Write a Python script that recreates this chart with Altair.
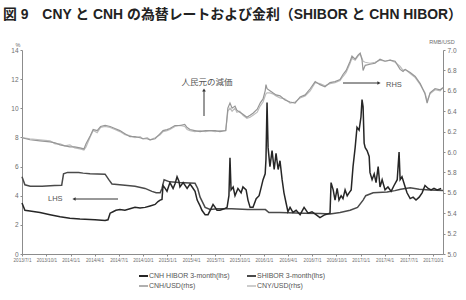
import altair as alt
import pandas as pd

title_text = "図 9　CNY と CNH の為替レートおよび金利（SHIBOR と CHN HIBOR）"

hibor_dates = ["2013-07-01","2013-07-12","2013-07-31","2013-09-07","2013-10-15","2013-11-22","2013-12-29",
"2014-02-05","2014-04-03","2014-05-11","2014-05-22","2014-05-30","2014-06-10","2014-06-21","2014-07-06",
"2014-07-25","2014-08-13","2014-09-01","2014-09-20","2014-10-09","2014-10-28","2014-11-16","2014-11-27",
"2014-12-05","2014-12-12","2014-12-16","2014-12-24","2014-12-31","2015-01-11","2015-01-23","2015-01-30",
"2015-02-07","2015-02-14","2015-02-18","2015-03-02","2015-03-17","2015-03-28","2015-04-05","2015-04-16",
"2015-04-24","2015-05-05","2015-05-12","2015-05-24","2015-06-04","2015-06-15","2015-06-23","2015-07-01",
"2015-07-08","2015-07-19","2015-08-04","2015-08-15","2015-08-22","2015-08-26","2015-08-30","2015-09-07",
"2015-09-14","2015-09-25","2015-10-07","2015-10-14","2015-10-26","2015-11-02","2015-11-10","2015-11-21",
"2015-12-03","2015-12-14","2015-12-21","2015-12-29","2016-01-06","2016-01-09","2016-01-13","2016-01-17",
"2016-01-24","2016-02-01","2016-02-09","2016-02-16","2016-02-24","2016-03-02","2016-03-10","2016-03-17",
"2016-03-25","2016-04-01","2016-04-09","2016-04-20","2016-05-02","2016-05-17","2016-06-01","2016-06-16",
"2016-07-01","2016-07-16","2016-07-31","2016-08-19","2016-09-07","2016-09-11","2016-09-19","2016-09-26",
"2016-10-04","2016-10-11","2016-10-19","2016-10-26","2016-11-03","2016-11-11","2016-11-18","2016-11-26",
"2016-12-03","2016-12-11","2016-12-18","2016-12-26","2017-01-02","2017-01-06","2017-01-10","2017-01-14",
"2017-01-18","2017-01-25","2017-02-02","2017-02-05","2017-02-13","2017-02-21","2017-02-28","2017-03-08",
"2017-03-15","2017-03-23","2017-04-03","2017-04-14","2017-04-26","2017-05-07","2017-05-19","2017-05-26",
"2017-05-30","2017-06-06","2017-06-18","2017-06-25","2017-07-07","2017-07-18","2017-07-29","2017-08-10",
"2017-08-21","2017-09-01","2017-09-13","2017-09-24","2017-10-05","2017-10-17","2017-11-01"]
hibor_vals = [3.5,3.0,2.95,2.85,2.7,2.55,2.45,
2.4,2.35,2.3,2.35,2.8,2.9,3.0,3.05,
3.0,3.1,3.2,3.15,3.2,3.3,3.4,3.6,
3.7,3.75,4.7,4.5,4.3,4.9,4.5,4.8,
5.3,5.0,4.6,4.9,4.5,4.8,4.6,4.3,
3.7,3.3,3.0,2.7,2.7,3.1,3.4,3.2,
3.0,3.0,3.1,3.2,4.0,6.6,4.4,4.6,
4.0,4.5,4.2,4.6,4.4,3.7,3.2,3.2,
3.8,4.0,4.5,5.1,5.5,6.5,10.4,7.3,
6.0,7.1,5.8,6.9,5.8,6.4,5.1,4.2,
3.5,2.9,3.2,2.85,3.0,2.7,3.2,2.8,
2.9,2.7,2.5,2.7,2.8,4.9,4.4,3.7,
4.5,3.7,4.0,3.8,4.4,4.0,4.2,4.4,
6.0,7.3,8.7,8.5,9.4,10.6,10.1,7.6,
7.3,7.1,6.7,5.6,5.1,5.5,4.9,6.0,
4.6,5.1,4.4,4.6,4.3,4.7,5.1,7.0,
5.1,5.3,4.6,4.2,3.8,3.9,3.7,3.9,
4.2,4.7,4.5,4.4,4.5,4.4,4.5]

shibor_dates = ["2013-07-01","2013-07-12","2013-08-01","2013-09-15","2013-11-01","2013-11-28","2013-12-05",
"2013-12-20","2014-01-31","2014-02-17","2014-03-15","2014-05-11","2014-05-25","2014-06-06","2014-07-25",
"2014-09-01","2014-10-09","2014-11-04","2014-11-20","2014-12-05","2014-12-12","2014-12-20","2015-01-10",
"2015-02-15","2015-04-16","2015-04-26","2015-05-05","2015-05-24","2015-06-12","2015-07-10","2015-09-01",
"2015-11-01","2016-01-07","2016-01-20","2016-03-01","2016-06-01","2016-08-01","2016-09-07","2016-10-15",
"2016-11-22","2016-12-20","2017-01-10","2017-01-20","2017-02-17","2017-04-11","2017-05-10","2017-06-01",
"2017-07-07","2017-08-10","2017-09-20","2017-11-08"]
shibor_vals = [5.3,4.75,4.65,4.65,4.7,4.72,5.5,
5.6,5.6,5.55,5.5,5.48,5.1,4.8,4.72,
4.65,4.5,4.3,4.2,4.2,4.5,5.1,4.95,
4.9,4.85,4.5,3.9,3.2,3.05,3.1,3.1,
3.05,3.05,2.85,2.85,2.8,2.78,2.75,2.85,
3.0,3.2,3.7,4.0,4.2,4.25,4.35,4.45,
4.55,4.45,4.4,4.35]

fx_dates = ["2013-07-01","2013-07-31","2013-09-07","2013-10-15","2013-11-03","2013-11-22","2013-12-10",
"2013-12-29","2014-01-16","2014-02-05","2014-02-20","2014-02-28","2014-03-16","2014-03-27","2014-04-11",
"2014-04-24","2014-05-11","2014-05-30","2014-06-17","2014-07-06","2014-07-25","2014-08-13","2014-09-01",
"2014-09-20","2014-10-01","2014-10-17","2014-10-28","2014-11-16","2014-12-05","2014-12-16","2014-12-31",
"2015-01-11","2015-01-30","2015-02-18","2015-03-08","2015-03-17","2015-03-28","2015-04-15","2015-05-05",
"2015-05-25","2015-06-12","2015-07-01","2015-07-19","2015-08-10","2015-08-18","2015-08-26","2015-09-03",
"2015-09-14","2015-09-21","2015-10-02","2015-10-14","2015-10-29","2015-11-10","2015-11-21","2015-12-07",
"2015-12-18","2015-12-29","2016-01-06","2016-01-09","2016-01-13","2016-01-24","2016-02-04","2016-02-16",
"2016-03-02","2016-03-21","2016-04-09","2016-04-28","2016-05-17","2016-06-05","2016-06-24","2016-07-13",
"2016-07-31","2016-08-19","2016-09-07","2016-09-26","2016-10-15","2016-10-26","2016-11-07","2016-11-22",
"2016-11-29","2016-12-11","2016-12-22","2016-12-30","2017-01-06","2017-01-10","2017-01-18","2017-02-05",
"2017-02-24","2017-03-15","2017-04-03","2017-04-22","2017-05-11","2017-05-30","2017-06-10","2017-06-18",
"2017-07-07","2017-07-26","2017-08-14","2017-09-01","2017-09-09","2017-09-20","2017-10-09","2017-10-28",
"2017-11-08"]
cny_vals = [6.14,6.13,6.12,6.11,6.08,6.08,6.06,
6.07,6.04,6.03,6.02,6.05,6.15,6.21,6.19,
6.24,6.25,6.24,6.22,6.20,6.17,6.16,6.14,
6.15,6.13,6.14,6.12,6.14,6.17,6.20,6.21,
6.22,6.25,6.26,6.25,6.22,6.21,6.20,6.21,
6.20,6.21,6.20,6.21,6.21,6.40,6.43,6.40,
6.43,6.39,6.40,6.36,6.33,6.34,6.36,6.39,
6.45,6.49,6.55,6.57,6.58,6.58,6.57,6.55,
6.53,6.52,6.48,6.49,6.53,6.55,6.60,6.68,
6.67,6.65,6.67,6.68,6.70,6.74,6.78,6.87,
6.92,6.90,6.94,6.96,6.92,6.89,6.88,6.87,
6.88,6.90,6.89,6.90,6.88,6.84,6.80,6.81,
6.77,6.73,6.66,6.58,6.50,6.57,6.61,6.60,
6.63]
cnh_vals = [6.14,6.12,6.11,6.10,6.09,6.07,6.06,
6.05,6.05,6.04,6.03,6.08,6.16,6.22,6.21,
6.25,6.26,6.25,6.23,6.21,6.18,6.15,6.15,
6.14,6.13,6.13,6.12,6.13,6.18,6.21,6.22,
6.23,6.26,6.26,6.27,6.24,6.22,6.21,6.20,
6.21,6.21,6.21,6.20,6.21,6.43,6.48,6.43,
6.45,6.41,6.39,6.37,6.34,6.36,6.38,6.42,
6.48,6.52,6.60,6.66,6.62,6.60,6.58,6.56,
6.55,6.51,6.49,6.48,6.54,6.56,6.62,6.69,
6.66,6.64,6.68,6.69,6.71,6.76,6.80,6.89,
6.94,6.91,6.95,6.97,6.90,6.80,6.85,6.86,
6.87,6.91,6.89,6.90,6.89,6.81,6.79,6.81,
6.78,6.74,6.67,6.57,6.48,6.58,6.62,6.61,
6.63]

x_tick_dates = [(2013,7),(2013,10),(2014,1),(2014,4),(2014,7),(2014,10),(2015,1),(2015,4),(2015,7),
                (2015,10),(2016,1),(2016,4),(2016,7),(2016,10),(2017,1),(2017,4),(2017,7),(2017,10)]
lhs_ticks = [0, 2, 4, 6, 8, 10, 12, 14]
rhs_ticks = [5.0, 5.2, 5.4, 5.6, 5.8, 6.0, 6.2, 6.4, 6.6, 6.8, 7.0]
legend_labels = ["CNH HIBOR 3-month(lhs)", "SHIBOR 3-month(lhs)", "CNH/USD(rhs)", "CNY/USD(rhs)"]
legend_colors = ["#262626", "#4a4a4a", "#969696", "#bdbdbd"]

FONT = "Liberation Sans, Arial, Noto Sans CJK JP"
AX = "#8c8c8c"
LAB = "#6e6e6e"

ir_df = pd.concat([
    pd.DataFrame({"date": shibor_dates, "v": shibor_vals, "s": legend_labels[1]}),
    pd.DataFrame({"date": hibor_dates, "v": hibor_vals, "s": legend_labels[0]}),
], ignore_index=True)
fx_df = pd.concat([
    pd.DataFrame({"date": fx_dates, "v": cny_vals, "s": legend_labels[3]}),
    pd.DataFrame({"date": fx_dates, "v": cnh_vals, "s": legend_labels[2]}),
], ignore_index=True)

xscale = alt.Scale(type="utc", domain=[alt.DateTime(year=2013, month=7, date=1, utc=True),
                                       alt.DateTime(year=2017, month=11, date=8, utc=True)])


def xaxis():
    return alt.Axis(values=[alt.DateTime(year=y, month=m, date=1, utc=True) for y, m in x_tick_dates],
                    labelExpr="utcFormat(datum.value, '%Y/%-m/%-d')", title=None, labelFontSize=4.6,
                    labelColor=LAB, labelFont=FONT, labelAngle=0, labelOverlap=False, labelFlush=False,
                    tickSize=2, tickColor=AX, domainColor=AX, labelPadding=1, grid=False)


lhs = alt.Chart(ir_df).mark_line(strokeWidth=1.5).encode(
    x=alt.X("date:T", scale=xscale, axis=xaxis()),
    y=alt.Y("v:Q", scale=alt.Scale(domain=[0, 14], nice=False, zero=False),
            axis=alt.Axis(values=lhs_ticks, orient="left", title=None, labelFontSize=6.5,
                          labelColor=LAB, labelFont=FONT, tickSize=2, tickColor=AX, domainColor=AX,
                          labelPadding=2, grid=False)),
    color=alt.Color("s:N", scale=alt.Scale(domain=legend_labels[:2], range=legend_colors[:2]), legend=None),
    detail="s:N",
)
rhs = alt.Chart(fx_df).mark_line(strokeWidth=1.2).encode(
    x=alt.X("date:T", scale=xscale, axis=xaxis()),
    y=alt.Y("v:Q", scale=alt.Scale(domain=[5, 7], nice=False, zero=False),
            axis=alt.Axis(values=rhs_ticks, orient="right", format=".1f", title=None, labelFontSize=6.5,
                          labelColor=LAB, labelFont=FONT, tickSize=2, tickColor=AX, domainColor=AX,
                          labelPadding=2, grid=False)),
    color=alt.Color("s:N", scale=alt.Scale(domain=legend_labels[2:], range=legend_colors[2:]), legend=None),
    detail="s:N",
)

one = pd.DataFrame({"a": [0]})


def txt(t, x, y, size, color="#555555", weight="normal", align="left"):
    return alt.Chart(one).mark_text(text=t, fontSize=size, fontWeight=weight, font=FONT, color=color,
                                    align=align, baseline="middle").encode(x=alt.value(x), y=alt.value(y))


def rule(x, y, x2=None, y2=None, color="#333333", w=1.0):
    enc = {"x": alt.value(x), "y": alt.value(y)}
    if x2 is not None:
        enc["x2"] = alt.value(x2)
    if y2 is not None:
        enc["y2"] = alt.value(y2)
    return alt.Chart(one).mark_rule(color=color, strokeWidth=w).encode(**enc)


def head(shape, x, y):
    return alt.Chart(one).mark_point(shape=shape, filled=True, size=14, color="#333333", opacity=1).encode(
        x=alt.value(x), y=alt.value(y))


overlays = [
    txt(title_text, -19, -35, 13.9, color="#222222", weight="bold"),
    txt("%", -4, -5, 5.5, color=LAB, align="center"),
    txt("RMB/USD", 420, -8, 5.5, color=LAB, align="center"),
    # annotations
    txt("人民元の減価", 185, 32, 8.5, align="center"),
    rule(182, 66, y2=41), head("triangle-up", 182, 40),
    txt("RHS", 364, 35, 7.5),
    rule(321, 33, x2=356), head("triangle-right", 357, 33),
    txt("LHS", 26, 149, 7.5),
    rule(96, 149, x2=53), head("triangle-left", 52, 149),
]
leg_pos = [(117, 226), (225, 226), (117, 236), (225, 236)]
for (lx, ly), lab, col in zip(leg_pos, legend_labels, legend_colors):
    overlays.append(rule(lx, ly, x2=lx + 9, color=col, w=2 if col in legend_colors[:2] else 1.5))
    overlays.append(txt(lab, lx + 10, ly, 7))

chart = alt.layer(lhs, rhs, *overlays).resolve_scale(y="independent", color="independent").properties(
    width=421, height=204, autosize="none",
    padding={"left": 22, "top": 50, "right": 23, "bottom": 46},
    background="white"
).configure_view(stroke=None)

chart.save("out.html", embed_options={"renderer": "svg", "actions": False})
